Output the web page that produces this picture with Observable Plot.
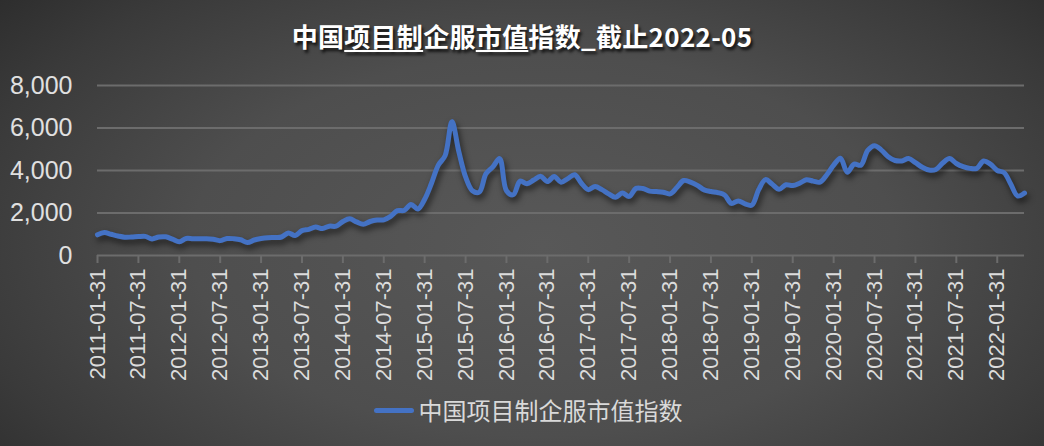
<!DOCTYPE html>
<html>
<head>
<meta charset="utf-8">
<script src="https://cdn.jsdelivr.net/npm/d3@7"></script>
<script src="https://cdn.jsdelivr.net/npm/@observablehq/plot@0.6"></script>
<style>
  html, body { margin: 0; padding: 0; }
  body {
    width: 1044px; height: 446px; overflow: hidden;
    background: radial-gradient(ellipse 75% 95% at 52% 55%, #585858 0%, #4e4e4e 45%, #3a3a3a 75%, #262626 100%);
    font-family: "Noto Sans CJK SC", "Noto Sans", sans-serif;
    position: relative;
  }
  #title {
    position: absolute; left: 0; top: 18px; width: 1044px; text-align: center;
    font-size: 26px; font-weight: bold; color: #ffffff; letter-spacing: 0.3px;
    text-shadow: 2px 3px 3px rgba(0,0,0,0.75);
    line-height: 36px;
  }
  #title u { text-decoration-thickness: 2px; text-underline-offset: 3px; }
  #chart { position: absolute; left: 0; top: 70px; }
  #legend {
    position: absolute; top: 392px; left: 0; width: 1044px; display: flex; justify-content: center; align-items: center;
    color: #d9d9d9; font-size: 24px; line-height: 36px;
  }
  #legend .sw { width: 40px; height: 5px; border-radius: 3px; background: #4472C4; margin-right: 5px; margin-left: 12px; }
</style>
</head>
<body>
<div id="title">中国<u>项目制</u>企服<u>市值</u>指数_截止2022-05</div>
<div id="chart"></div>
<div id="legend"><span class="sw"></span><span id="legendText"></span></div>
<script>
const seriesName = "中国项目制企服市值指数";

const dates = [
  "2011-01-31","2011-02-28","2011-03-31","2011-04-30","2011-05-31","2011-06-30","2011-07-31","2011-08-31","2011-09-30","2011-10-31","2011-11-30","2011-12-31",
  "2012-01-31","2012-02-29","2012-03-31","2012-04-30","2012-05-31","2012-06-30","2012-07-31","2012-08-31","2012-09-30","2012-10-31","2012-11-30","2012-12-31",
  "2013-01-31","2013-02-28","2013-03-31","2013-04-30","2013-05-31","2013-06-30","2013-07-31","2013-08-31","2013-09-30","2013-10-31","2013-11-30","2013-12-31",
  "2014-01-31","2014-02-28","2014-03-31","2014-04-30","2014-05-31","2014-06-30","2014-07-31","2014-08-31","2014-09-30","2014-10-31","2014-11-30","2014-12-31",
  "2015-01-31","2015-02-28","2015-03-31","2015-04-30","2015-05-31","2015-06-30","2015-07-31","2015-08-31","2015-09-30","2015-10-31","2015-11-30","2015-12-31",
  "2016-01-31","2016-02-29","2016-03-31","2016-04-30","2016-05-31","2016-06-30","2016-07-31","2016-08-31","2016-09-30","2016-10-31","2016-11-30","2016-12-31",
  "2017-01-31","2017-02-28","2017-03-31","2017-04-30","2017-05-31","2017-06-30","2017-07-31","2017-08-31","2017-09-30","2017-10-31","2017-11-30","2017-12-31",
  "2018-01-31","2018-02-28","2018-03-31","2018-04-30","2018-05-31","2018-06-30","2018-07-31","2018-08-31","2018-09-30","2018-10-31","2018-11-30","2018-12-31",
  "2019-01-31","2019-02-28","2019-03-31","2019-04-30","2019-05-31","2019-06-30","2019-07-31","2019-08-31","2019-09-30","2019-10-31","2019-11-30","2019-12-31",
  "2020-01-31","2020-02-29","2020-03-31","2020-04-30","2020-05-31","2020-06-30","2020-07-31","2020-08-31","2020-09-30","2020-10-31","2020-11-30","2020-12-31",
  "2021-01-31","2021-02-28","2021-03-31","2021-04-30","2021-05-31","2021-06-30","2021-07-31","2021-08-31","2021-09-30","2021-10-31","2021-11-30","2021-12-31",
  "2022-01-31","2022-02-28","2022-03-31","2022-04-30","2022-05-31"
];

const values = [
  975,1080,1000,920,860,870,890,900,780,870,880,770,
  650,800,790,790,790,760,700,800,790,740,610,730,
  800,840,850,870,1060,940,1170,1230,1340,1270,1380,1380,
  1600,1730,1580,1470,1600,1670,1680,1840,2110,2120,2400,2190,
  2650,3400,4250,4700,6300,4900,3700,3050,2980,3850,4170,4560,
  3050,2860,3500,3380,3550,3730,3480,3720,3450,3620,3800,3400,
  3100,3250,3100,2900,2740,2940,2780,3160,3150,3030,3010,2980,
  2900,3200,3530,3450,3300,3090,3010,2960,2850,2450,2570,2430,
  2370,3100,3570,3350,3120,3330,3290,3400,3560,3500,3450,3800,
  4250,4580,3920,4300,4250,4950,5170,4960,4650,4470,4450,4560,
  4370,4150,4020,4050,4350,4560,4330,4180,4100,4100,4450,4300,
  4000,3900,3350,2800,2940
];

const xTickLabels = [
  "2011-01-31","2011-07-31","2012-01-31","2012-07-31","2013-01-31","2013-07-31",
  "2014-01-31","2014-07-31","2015-01-31","2015-07-31","2016-01-31","2016-07-31",
  "2017-01-31","2017-07-31","2018-01-31","2018-07-31","2019-01-31","2019-07-31",
  "2020-01-31","2020-07-31","2021-01-31","2021-07-31","2022-01-31"
];
const yTicks = [0, 2000, 4000, 6000, 8000];

const data = dates.map((d, i) => ({date: d, value: values[i]}));

document.getElementById("legendText").textContent = seriesName;

const chart = Plot.plot({
  width: 1044,
  height: 320,
  marginTop: 15,
  marginBottom: 135,
  marginLeft: 97,
  marginRight: 20,
  style: {background: "transparent", color: "#d9d9d9", fontFamily: "'Liberation Sans', Arial, sans-serif", overflow: "visible"},
  x: {type: "point", domain: dates, padding: 0, axis: null},
  y: {domain: [0, 8000], axis: null},
  marks: [
    Plot.ruleY(yTicks.filter(v => v > 0), {stroke: "#6c6c6c", strokeWidth: 2}),
    Plot.ruleY([0], {stroke: "#6c6c6c", strokeWidth: 2}),
    Plot.axisY({ticks: yTicks, tickFormat: d3.format(","), tickSize: 0, tickPadding: 25, fontSize: 25, fill: "#e0e0e0", label: null}),
    Plot.axisX({ticks: xTickLabels, tickRotate: -90, tickSize: 8, tickPadding: 5, fontSize: 22, stroke: "#6c6c6c", strokeWidth: 2, fill: "#dcdcdc", label: null}),
    Plot.line(data, {x: "date", y: "value", stroke: "#4472C4", strokeWidth: 5, strokeLinejoin: "round", strokeLinecap: "round", curve: "catmull-rom"})
  ]
});
document.getElementById("chart").appendChild(chart);
const lineG = chart.querySelector('g[aria-label="line"]');
if (lineG) lineG.style.filter = "drop-shadow(2px 4px 3px rgba(0,0,0,0.6))";
</script>
</body>
</html>
